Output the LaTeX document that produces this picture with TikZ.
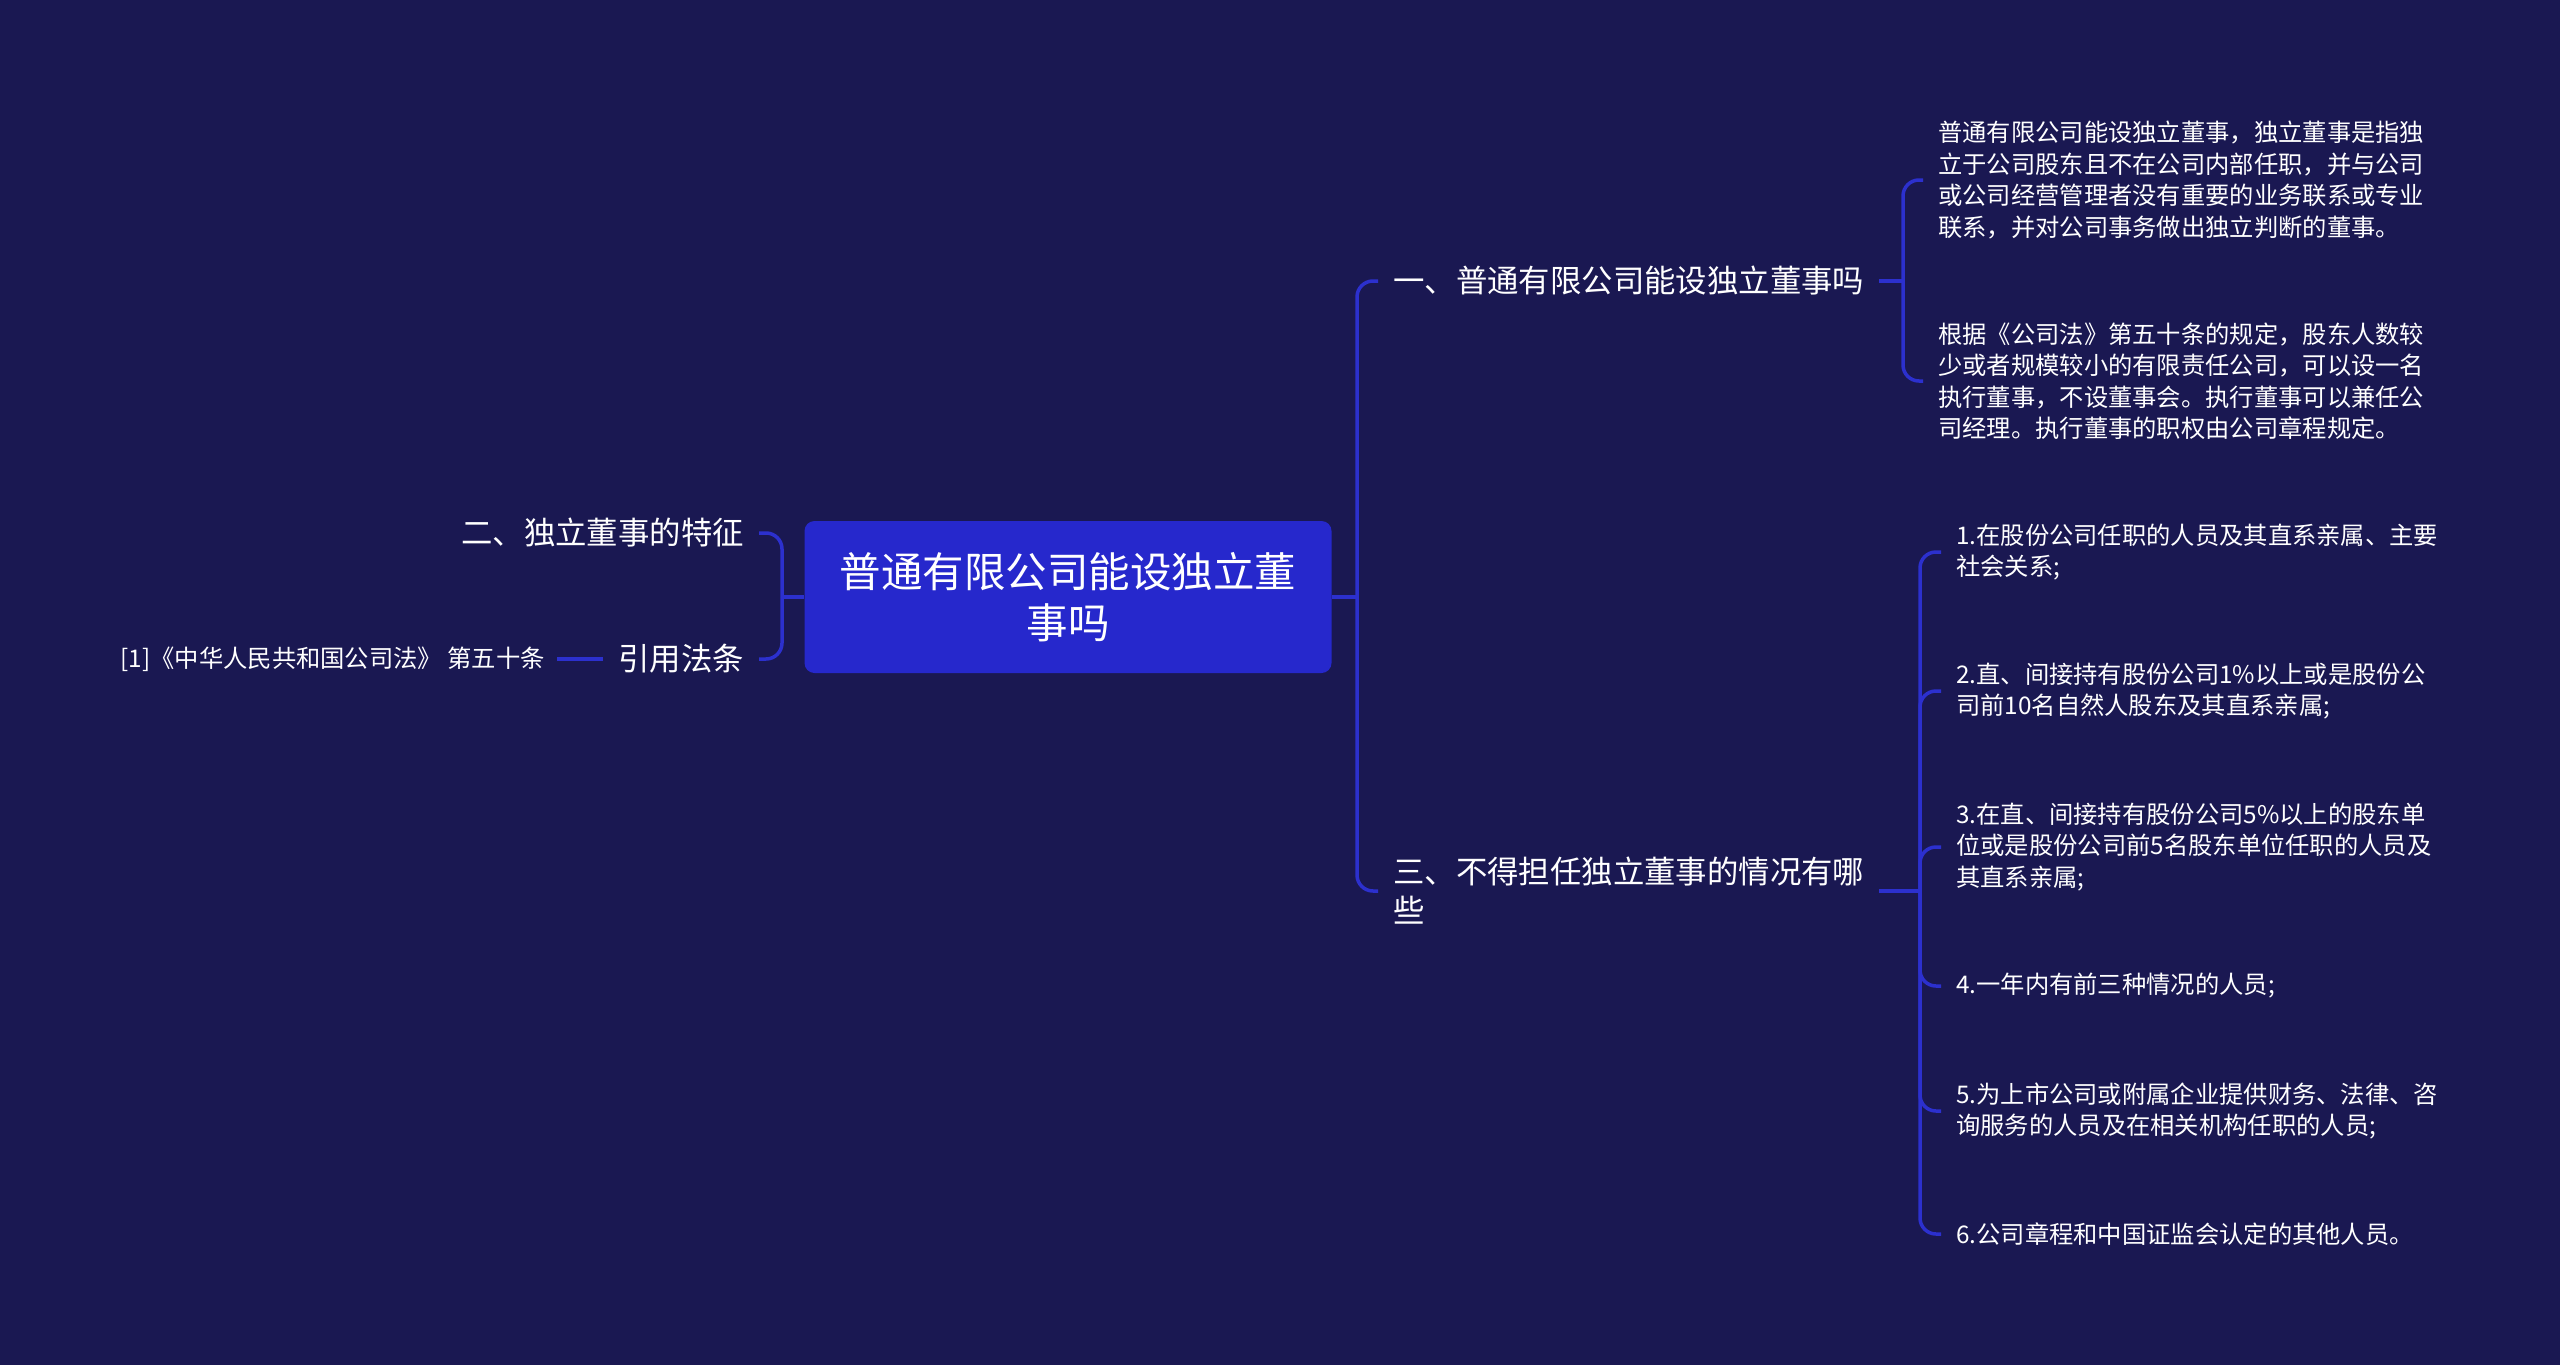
\documentclass[tikz,border=0pt]{standalone}
\usepackage{fontspec}
\setmainfont{Noto Sans CJK SC}
\usetikzlibrary{positioning,calc}
\definecolor{bgnavy}{RGB}{26,24,82}
\definecolor{rootblue}{RGB}{38,40,204}
\definecolor{linkblue}{RGB}{44,48,206}

\begin{document}
\begin{tikzpicture}[
  x=1pt, y=-1pt,
  root/.style={fill=rootblue, rounded corners=10pt, text=white, align=center,
    minimum width=527pt, minimum height=152pt, font=\fontsize{41.5}{50.6}\selectfont},
  topic/.style={text=white, align=left, inner xsep=15pt, inner ysep=4pt,
    font=\fontsize{31.4}{39}\selectfont},
  leaf/.style={text=white, align=left, inner xsep=15pt, inner ysep=3pt,
    font=\fontsize{24.3}{31.5}\selectfont},
  link/.style={draw=linkblue, line width=3.5pt},
  fork/.style={link, rounded corners=16pt}
]

% Canvas
\fill[bgnavy] (0,0) rectangle (2560,1365);

% Central topic
\node[root] (root) at (1068,597) {普通有限公司能设独立董\\事吗};

% Left branch
\coordinate (lspine) at (782,597);
\node[topic, anchor=east] (feat) at (759,533) {二、独立董事的特征};
\node[topic, anchor=east] (cite) at (759,659) {引用法条};
\node[leaf, anchor=east, inner xsep=12pt, font=\fontsize{24.3}{30}\selectfont] (law) at (557,659)
  {[1]《中华人民共和国公司法》 第五十条};

% Right branch
\coordinate (rspine) at (1357,597);
\node[topic, anchor=west] (q1) at (1378,281) {一、普通有限公司能设独立董事吗};
\node[topic, anchor=west] (q3) at (1378,891) {三、不得担任独立董事的情况有哪\\些};

% Details of the first question
\coordinate (qa) at (1903,281);
\node[leaf, anchor=west] (d1) at (1923,180) {普通有限公司能设独立董事，独立董事是指独\\
立于公司股东且不在公司内部任职，并与公司\\
或公司经营管理者没有重要的业务联系或专业\\
联系，并对公司事务做出独立判断的董事。};
\node[leaf, anchor=west] (d2) at (1923,381) {根据《公司法》第五十条的规定，股东人数较\\
少或者规模较小的有限责任公司，可以设一名\\
执行董事，不设董事会。执行董事可以兼任公\\
司经理。执行董事的职权由公司章程规定。};

% Details of the third question
\coordinate (qb) at (1920,891);
\node[leaf, anchor=west] (e1) at (1941,552) {1.在股份公司任职的人员及其直系亲属、主要\\社会关系;};
\node[leaf, anchor=west] (e2) at (1941,691) {2.直、间接持有股份公司1\%以上或是股份公\\司前10名自然人股东及其直系亲属;};
\node[leaf, anchor=west] (e3) at (1941,847) {3.在直、间接持有股份公司5\%以上的股东单\\位或是股份公司前5名股东单位任职的人员及\\其直系亲属;};
\node[leaf, anchor=west] (e4) at (1941,986) {4.一年内有前三种情况的人员;};
\node[leaf, anchor=west] (e5) at (1941,1111) {5.为上市公司或附属企业提供财务、法律、咨\\询服务的人员及在相关机构任职的人员;};
\node[leaf, anchor=west] (e6) at (1941,1234) {6.公司章程和中国证监会认定的其他人员。};

% Connectors
\draw[link] (root.west) -- (lspine);
\draw[fork] (lspine) |- (feat.east);
\draw[fork] (lspine) |- (cite.east);
\draw[link] (cite.west) -- (law.east);

\draw[link] (root.east) -- (rspine);
\draw[fork] (rspine) |- (q1.west);
\draw[fork] (rspine) |- (q3.west);

\draw[link] (q1.east) -- (qa);
\draw[fork] (qa) |- (d1.west);
\draw[fork] (qa) |- (d2.west);

\draw[link] (q3.east) -- (qb);
\foreach \n in {e1,e2,e3,e4,e5,e6}
  \draw[fork] (qb) |- (\n.west);

\end{tikzpicture}
\end{document}
